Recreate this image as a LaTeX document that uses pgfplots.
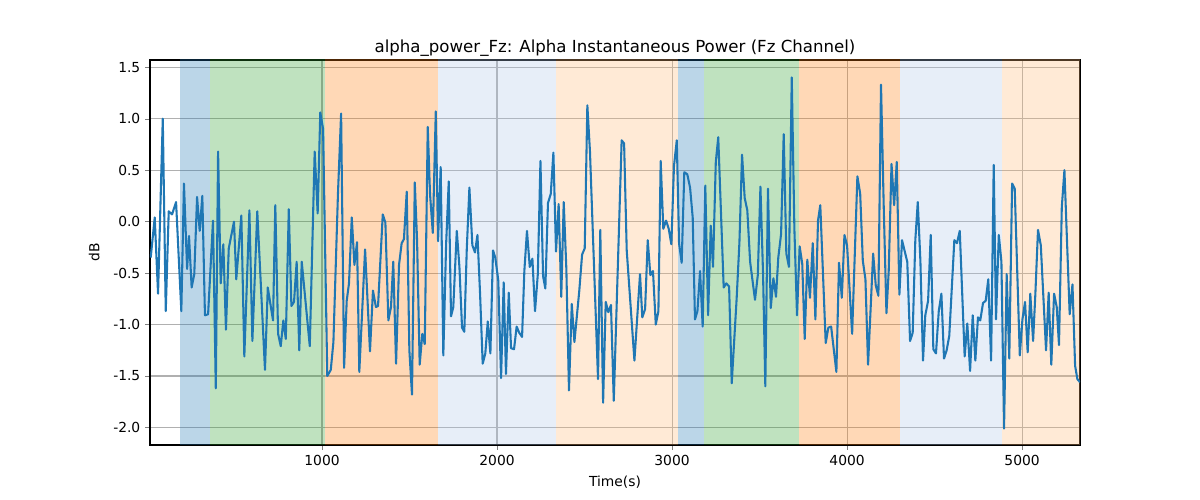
\documentclass[border=0pt]{standalone}
\usepackage{pgfplots}
\pgfplotsset{compat=1.18}
\usepackage{fontspec}
\setmainfont{DejaVu Sans}
\definecolor{c0}{HTML}{1F77B4}
\definecolor{c1}{HTML}{FF7F0E}
\definecolor{c2}{HTML}{2CA02C}
\definecolor{lb}{HTML}{AEC7E8}
\definecolor{lo}{HTML}{FFBB78}
\begin{document}
\begin{tikzpicture}
\path (-1.5in,-0.55in) rectangle (10.5in,4.45in);
\begin{axis}[
  at={(0,0)}, anchor=south west, scale only axis,
  width=9.3in, height=3.85in,
  xmin=17, xmax=5331, ymin=-2.17, ymax=1.57,
  xtick={1000,2000,3000,4000,5000},
  ytick={-2,-1.5,-1,-0.5,0,0.5,1,1.5},
  yticklabel style={/pgf/number format/.cd,fixed,fixed zerofill,precision=1},
  /pgf/number format/assume math mode=true,
  scaled x ticks=false,
  xticklabel style={/pgf/number format/1000 sep={}},
  tick align=outside, xtick pos=bottom, ytick pos=left,
  major tick length=3.5pt,
  tick label style={font=\fontsize{10}{12}\selectfont},
  grid=major, grid style={color=black!31, line width=0.8pt},
  axis line style={line width=0.8pt},
  title={alpha\_power\_Fz: Alpha Instantaneous Power (Fz Channel)},
  title style={font=\fontsize{12}{14}\selectfont, yshift=-7pt},
  xlabel={Time(s)}, ylabel={dB},
  label style={font=\fontsize{10}{12}\selectfont},
  ylabel style={yshift=3pt},
  xlabel style={yshift=-1pt},
]
\fill[c0, fill opacity=0.3] (axis cs:189,-3) rectangle (axis cs:360,3);
\fill[c2, fill opacity=0.3] (axis cs:360,-3) rectangle (axis cs:1017,3);
\fill[c1, fill opacity=0.3] (axis cs:1017,-3) rectangle (axis cs:1663,3);
\fill[lb, fill opacity=0.3] (axis cs:1663,-3) rectangle (axis cs:2337,3);
\fill[lo, fill opacity=0.3] (axis cs:2337,-3) rectangle (axis cs:3034,3);
\fill[c0, fill opacity=0.3] (axis cs:3034,-3) rectangle (axis cs:3183,3);
\fill[c2, fill opacity=0.3] (axis cs:3183,-3) rectangle (axis cs:3726,3);
\fill[c1, fill opacity=0.3] (axis cs:3726,-3) rectangle (axis cs:4303,3);
\fill[lb, fill opacity=0.3] (axis cs:4303,-3) rectangle (axis cs:4886,3);
\fill[lo, fill opacity=0.3] (axis cs:4886,-3) rectangle (axis cs:5331,3);
\addplot[c0, line width=1.5pt, line join=round] coordinates {
(21,-0.35)(44,0.04)(63,-0.70)(90,1.00)(107,-0.87)(124,0.10)(143,0.07)(166,0.19)(196,-0.87)(211,0.37)
(229,-0.46)(240,-0.14)(255,-0.64)(270,-0.51)(286,0.24)(301,-0.09)(316,0.25)(331,-0.91)(349,-0.90)(377,0.01)
(393,-1.62)(406,0.68)(421,-0.60)(436,-0.22)(451,-1.05)(467,-0.26)(497,0.00)(510,-0.56)(539,0.06)(556,-1.31)
(585,0.11)(602,-1.16)(630,0.10)(674,-1.44)(690,-0.64)(720,-0.96)(733,0.16)(749,-1.09)(764,-1.21)(779,-0.96)
(793,-1.14)(810,0.12)(825,-0.82)(840,-0.78)(855,-0.39)(870,-1.25)(884,-0.39)(930,-1.21)(958,0.68)(975,0.08)
(990,1.06)(1006,0.90)(1030,-1.50)(1050,-1.44)(1065,-1.17)(1091,0.27)(1109,1.05)(1126,-1.42)(1141,-0.77)(1154,-0.60)
(1170,0.04)(1185,-0.42)(1200,-0.20)(1213,-1.46)(1246,-0.27)(1274,-1.26)(1291,-0.67)(1308,-0.83)(1320,-0.82)(1347,0.07)
(1362,-0.01)(1379,-0.96)(1394,-0.83)(1407,-0.39)(1423,-1.38)(1440,-0.42)(1455,-0.21)(1468,-0.17)(1484,0.29)(1499,-1.25)
(1514,-1.68)(1530,0.38)(1543,-0.18)(1558,-1.39)(1573,-1.09)(1587,-1.19)(1604,0.92)(1617,0.27)(1633,-0.11)(1650,1.07)
(1663,-0.19)(1678,0.53)(1693,-1.30)(1709,-0.22)(1724,0.39)(1737,-0.92)(1750,-0.83)(1770,-0.09)(1785,-0.44)(1800,-1.03)
(1813,-1.07)(1827,-0.27)(1842,0.33)(1859,-0.23)(1874,-0.30)(1888,-0.13)(1903,-0.70)(1918,-1.38)(1933,-1.28)(1947,-0.97)
(1962,-1.28)(1977,-0.28)(1990,-0.35)(2007,-0.57)(2023,-1.52)(2038,-0.59)(2051,-1.48)(2067,-0.69)(2080,-1.23)(2097,-1.24)
(2112,-1.02)(2127,-1.08)(2143,-1.12)(2156,-0.48)(2171,-0.09)(2187,-0.44)(2202,-0.36)(2217,-0.87)(2233,-0.51)(2248,0.59)
(2263,-0.53)(2276,-0.65)(2291,0.18)(2307,0.27)(2322,0.67)(2337,-0.29)(2352,0.17)(2367,-0.73)(2381,0.19)(2396,-0.46)
(2411,-1.64)(2427,-0.80)(2442,-1.17)(2470,-0.67)(2486,-0.32)(2501,-0.26)(2516,1.13)(2531,0.68)(2577,-1.53)(2590,-0.08)
(2606,-1.76)(2621,-0.78)(2636,-0.88)(2651,-0.81)(2667,-1.74)(2712,0.79)(2726,0.76)(2741,-0.28)(2785,-1.35)(2817,-0.51)
(2830,-0.93)(2846,-0.85)(2861,-0.18)(2876,-0.52)(2891,-0.48)(2907,-1.00)(2922,-0.87)(2935,0.59)(2950,-0.07)(2966,0.01)
(2981,-0.07)(2996,-0.22)(3011,0.54)(3027,0.79)(3040,-0.21)(3055,-0.40)(3070,0.48)(3087,0.46)(3103,0.33)(3118,0.04)
(3131,-0.95)(3145,-0.87)(3160,-0.48)(3175,-1.02)(3190,0.35)(3206,-0.91)(3221,-0.04)(3234,-0.44)(3250,0.58)(3264,0.82)
(3295,-0.64)(3310,-0.60)(3326,-0.63)(3341,-1.57)(3369,-0.75)(3385,-0.20)(3400,0.65)(3415,0.23)(3430,0.11)(3446,-0.39)
(3474,-0.76)(3490,-0.52)(3505,0.34)(3520,-0.51)(3533,-1.60)(3548,0.32)(3564,-0.84)(3579,-0.55)(3594,-0.73)(3607,-0.35)
(3623,-0.12)(3638,0.85)(3653,-0.31)(3668,-0.44)(3684,1.40)(3699,-0.07)(3714,-0.91)(3729,-0.24)(3744,-0.41)(3758,-1.14)
(3773,-0.37)(3788,-0.74)(3804,-0.21)(3819,-0.95)(3834,0.01)(3847,0.16)(3878,-1.18)(3893,-1.03)(3909,-1.02)(3939,-1.46)
(3954,-0.40)(3970,-0.74)(3985,-0.13)(4000,-0.23)(4029,-1.09)(4059,0.44)(4075,0.27)(4090,-0.38)(4105,-0.56)(4120,-1.39)
(4149,-0.31)(4164,-0.62)(4179,-0.72)(4194,1.33)(4210,0.11)(4225,-0.89)(4238,-0.48)(4254,0.56)(4269,0.16)(4284,0.58)
(4299,-0.71)(4314,-0.18)(4344,-0.39)(4360,-1.16)(4375,-1.08)(4390,-0.18)(4404,0.19)(4419,-0.38)(4434,-1.35)(4447,-0.91)
(4463,-0.77)(4478,-0.13)(4493,-1.24)(4508,-1.28)(4524,-0.87)(4539,-0.70)(4554,-1.33)(4569,-1.25)(4584,-1.11)(4613,-0.18)
(4628,-0.21)(4644,-0.09)(4672,-1.31)(4687,-0.99)(4703,-1.45)(4718,-0.91)(4733,-1.35)(4748,-0.93)(4761,-0.96)(4777,-0.79)
(4792,-0.77)(4807,-0.56)(4823,-1.35)(4838,0.55)(4851,-0.95)(4867,-0.13)(4882,-0.39)(4897,-2.01)(4912,-0.51)(4927,-1.33)
(4943,0.37)(4958,0.32)(4987,-1.30)(5002,-0.95)(5017,-0.78)(5032,-1.27)(5047,-0.70)(5063,-1.16)(5076,-0.70)(5091,-0.08)
(5107,-0.23)(5137,-1.25)(5152,-0.69)(5167,-1.39)(5183,-0.70)(5198,-0.83)(5211,-1.20)(5227,0.14)(5242,0.50)(5272,-0.90)
(5288,-0.61)(5303,-1.40)(5316,-1.53)(5331,-1.56)
};
\end{axis}
\end{tikzpicture}
\end{document}
